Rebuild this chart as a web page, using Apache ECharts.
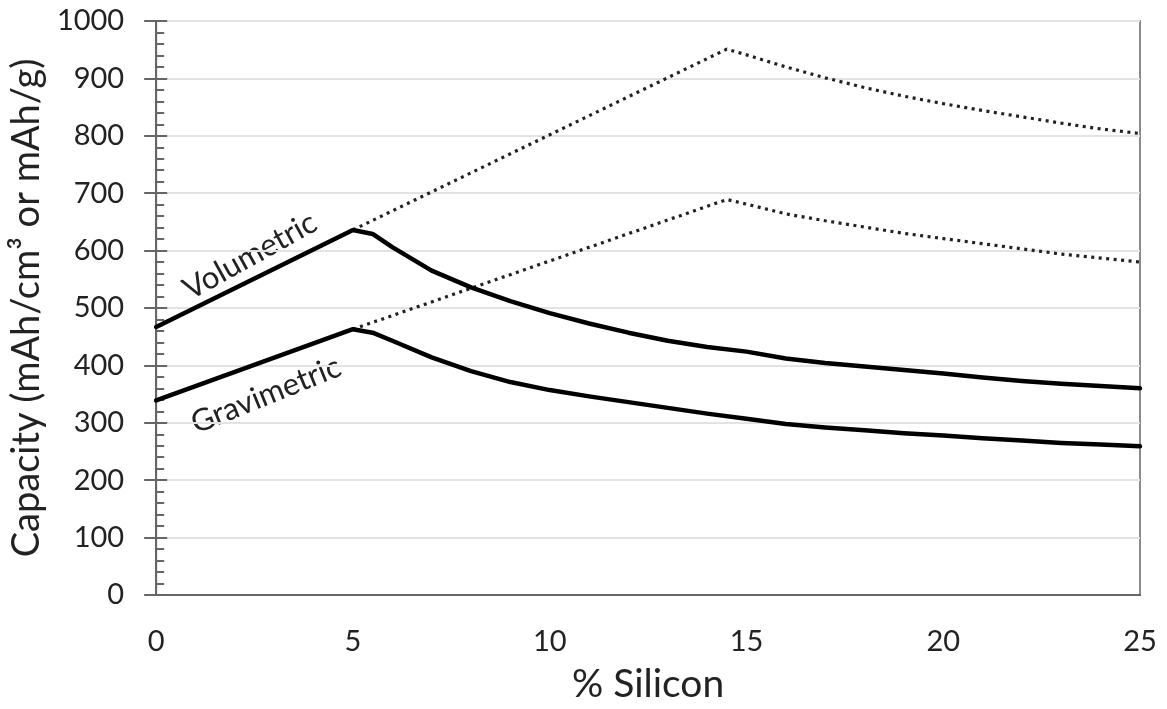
<!DOCTYPE html>
<html>
<head>
<meta charset="utf-8">
<script src="https://cdn.jsdelivr.net/npm/echarts@6/dist/echarts.min.js"></script>
<style>
html,body{margin:0;padding:0;background:#fff;}
#chart{width:1167px;height:709px;}
</style>
</head>
<body>
<div id="chart"></div>
<script>
// ---- data ----
const xSolid   = [0, 5, 5.5, 6, 7, 8, 9, 10, 11, 12, 13, 14, 15, 16, 17, 18, 19, 20, 21, 22, 23, 24, 25];
const volSolid = [467, 636, 629, 606, 565, 536, 512, 491, 473, 457, 443, 432, 424, 412, 404, 398, 392, 386, 379, 373, 368, 364, 360];
const gravSolid= [339, 463, 457, 443, 414, 390, 371, 357, 346, 336, 326, 316, 307, 298, 292, 287, 282, 278, 273, 269, 265, 262, 259];

const xDotted   = [5, 14.5, 15, 16, 17, 18, 19, 20, 21, 22, 23, 24, 25];
const volDotted = [636, 951, 941, 920, 901, 884, 869, 856, 844, 833, 822, 812, 804];
const gravDotted= [463, 689, 681, 664, 652, 641, 630, 621, 612, 603, 594, 587, 580];

const xTicks = [0, 5, 10, 15, 20, 25];
const yMin = 0, yMax = 1000, yStep = 100;
const xTitle = '% Silicon';
const yTitle = 'Capacity (mAh/cm³ or mAh/g)';
const curveLabels = ['Volumetric', 'Gravimetric'];

const pair = (xs, ys) => xs.map((x, i) => [x, ys[i]]);
const FONT = 'Lato';

const chart = echarts.init(document.getElementById('chart'));
const solidStyle = { color: '#000', width: 4.5, cap: 'round', join: 'round' };
const dotStyle = { color: '#222', width: 3.2, type: [3, 4.5], cap: 'butt' };

chart.setOption({
  animation: false,
  backgroundColor: '#fff',
  grid: { left: 151, right: 27, top: 21, bottom: 113, show: true, borderColor: '#8a8a8a', borderWidth: 2 },
  xAxis: {
    type: 'value', min: xTicks[0], max: xTicks[xTicks.length - 1], interval: 5,
    name: xTitle, nameLocation: 'middle', nameGap: 70,
    nameTextStyle: { fontFamily: FONT, fontSize: 39, color: '#222' },
    axisLine: { show: true, lineStyle: { color: '#666', width: 2 } },
    axisTick: { show: false },
    splitLine: { show: false },
    axisLabel: { fontFamily: FONT, fontSize: 29, color: '#222', margin: 32 }
  },
  yAxis: [{
    type: 'value', min: yMin, max: yMax, interval: yStep,
    name: yTitle, nameLocation: 'middle', nameGap: 99,
    nameTextStyle: { fontFamily: FONT, fontSize: 38, color: '#222' },
    axisLine: { show: true, lineStyle: { color: '#666', width: 2 } },
    axisTick: { show: true, length: 12, lineStyle: { color: '#666', width: 2 } },
    splitLine: { show: true, lineStyle: { color: '#e3e3e3', width: 2 } },
    axisLabel: { fontFamily: FONT, fontSize: 29, color: '#222', margin: 32, formatter: v => String(v) }
  }, {
    type: 'value', min: yMin, max: yMax, interval: yStep, position: 'left',
    axisLine: { show: false },
    axisTick: { show: true, inside: true, length: 11, lineStyle: { color: '#666', width: 2 } },
    minorTick: { show: true, splitNumber: 5, length: 8, lineStyle: { color: '#666', width: 2 } },
    splitLine: { show: false },
    axisLabel: { show: false }
  }],
  series: [
    { type: 'line', name: 'Volumetric (dotted)', data: pair(xDotted, volDotted), showSymbol: false, lineStyle: dotStyle, z: 2 },
    { type: 'line', name: 'Gravimetric (dotted)', data: pair(xDotted, gravDotted), showSymbol: false, lineStyle: dotStyle, z: 2 },
    { type: 'line', name: 'Volumetric', data: pair(xSolid, volSolid), showSymbol: false, lineStyle: solidStyle, z: 3 },
    { type: 'line', name: 'Gravimetric', data: pair(xSolid, gravSolid), showSymbol: false, lineStyle: solidStyle, z: 3 }
  ],
  graphic: [
    { type: 'text', x: 250, y: 256, rotation: 29 * Math.PI / 180,
      style: { text: curveLabels[0], fontFamily: FONT, fontSize: 31, fill: '#222', align: 'center', verticalAlign: 'middle' } },
    { type: 'text', x: 266, y: 395, rotation: 22 * Math.PI / 180,
      style: { text: curveLabels[1], fontFamily: FONT, fontSize: 31, fill: '#222', align: 'center', verticalAlign: 'middle' } }
  ]
});
</script>
</body>
</html>
